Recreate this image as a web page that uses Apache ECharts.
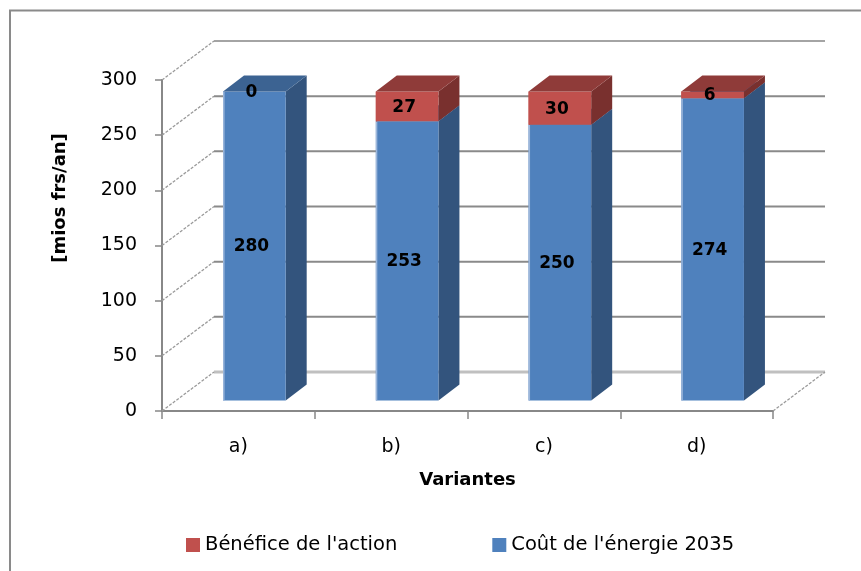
<!DOCTYPE html>
<html>
<head>
<meta charset="utf-8">
<script src="https://cdn.jsdelivr.net/npm/echarts@6/dist/echarts.min.js"></script>
<style>
html,body{margin:0;padding:0;background:#fff;}
#chart{width:861px;height:571px;}
</style>
</head>
<body>
<div id="chart"></div>
<script>
// ---- data ----
const categories = ['a)', 'b)', 'c)', 'd)'];
const coutEnergie = [280, 253, 250, 274];   // Coût de l'énergie 2035
const benefice = [0, 27, 30, 6];            // Bénéfice de l'action
const yTicks = [0, 50, 100, 150, 200, 250, 300];
const seriesNames = ["Bénéfice de l'action", "Coût de l'énergie 2035"];

// ---- style constants (pixels) ----
const WALL_DX = 52, WALL_DY = -39;     // depth of the 3D box
const BAR_FX = 16, BAR_FY = -10.5;     // bar front face offset
const BAR_SX = 21, BAR_SY = -16;       // bar depth
const BAR_W = 0.41;                    // fraction of band
const FONT = 'DejaVu Sans';

const chart = echarts.init(document.getElementById('chart'));

function stackData(vals, bases) {
  return vals.map((v, i) => [i, bases[i], bases[i] + v, v]);
}

function barRenderer(colors) {
  return function (params, api) {
    const cat = api.value(0), base = api.value(1), top = api.value(2), v = api.value(3);
    const bandW = api.size([1, 0])[0];
    const w = bandW * BAR_W;
    const pB = api.coord([cat, base]);
    const pT = api.coord([cat, top]);
    const xl = pB[0] + BAR_FX - w / 2, xr = xl + w;
    const yb = pB[1] + BAR_FY, yt = pT[1] + BAR_FY;
    const children = [];
    if (yb - yt > 0.01) {
      children.push({ type: 'polygon', shape: { points: [[xr, yb], [xr, yt], [xr + BAR_SX, yt + BAR_SY], [xr + BAR_SX, yb + BAR_SY]] },
        style: { fill: colors.side } });
      children.push({ type: 'rect', shape: { x: xl, y: yt, width: w, height: yb - yt }, style: { fill: colors.front } });
      children.push({ type: 'line', shape: { x1: xl + 0.75, y1: yt, x2: xl + 0.75, y2: yb }, style: { stroke: colors.edge, lineWidth: 1.5 } });
      children.push({ type: 'polygon', shape: { points: [[xl, yt], [xr, yt], [xr + BAR_SX, yt + BAR_SY], [xl + BAR_SX, yt + BAR_SY]] },
        style: { fill: colors.top } });
    }
    children.push({ type: 'text', x: xl + w / 2 - 3, y: (yt + yb) / 2 + 1,
      style: { text: String(v), fill: '#000', font: 'bold 17px "' + FONT + '"', align: 'center', verticalAlign: 'middle' } });
    return { type: 'group', children: children };
  };
}

const zeros = categories.map(() => 0);

const option = {
  animation: false,
  textStyle: { fontFamily: FONT },
  grid: { left: 162, right: 88, top: 80, bottom: 160, containLabel: false },
  legend: {
    data: seriesNames,
    left: 181, top: 530,
    itemWidth: 14, itemHeight: 14, itemGap: 95,
    icon: 'rect',
    textStyle: { fontFamily: FONT, fontSize: 19.5, color: '#000' }
  },
  graphic: [
    { type: 'polyline', shape: { points: [[10, 571], [10, 10.5], [861, 10.5]] }, style: { stroke: '#8a8a8a', lineWidth: 2, fill: null } },
    { type: 'text', x: 60.5, y: 198, rotation: Math.PI / 2,
      style: { text: '[mios frs/an]', font: 'bold 18px "' + FONT + '"', fill: '#000', align: 'center', verticalAlign: 'middle' } }
  ],
  xAxis: {
    type: 'category', data: categories,
    axisLine: { lineStyle: { color: '#888', width: 2 } },
    axisTick: { show: true, length: 8, alignWithLabel: false, lineStyle: { color: '#888', width: 1.5 } },
    axisLabel: { margin: 27, fontSize: 19, color: '#000', fontFamily: FONT },
    name: 'Variantes', nameLocation: 'middle', nameGap: 60,
    nameTextStyle: { fontWeight: 'bold', fontSize: 18, color: '#000', fontFamily: FONT },
    splitLine: { show: false }
  },
  yAxis: {
    type: 'value', min: 0, max: 300, interval: 50,
    axisLine: { show: true, lineStyle: { color: '#888', width: 2 } },
    axisTick: { show: true, length: 7, lineStyle: { color: '#888', width: 1.5 } },
    axisLabel: { margin: 25, fontSize: 19, color: '#000', fontFamily: FONT },
    splitLine: { show: false }
  },
  series: [
    {
      name: 'walls', type: 'custom', silent: true, clip: false, z: 1,
      data: yTicks.map(v => [0, v]),
      encode: { x: 0, y: 1 },
      renderItem: function (params, api) {
        const cs = params.coordSys;
        const v = api.value(1);
        const y = api.coord([0, v])[1];
        const x0 = cs.x, x1 = cs.x + cs.width;
        const children = [];
        const back = v === 0 ? '#c0c0c0' : (v === 300 ? '#a4a4a4' : '#8a8a8a');
        children.push({ type: 'line', shape: { x1: x0 + WALL_DX, y1: y + WALL_DY, x2: x1 + WALL_DX, y2: y + WALL_DY },
          style: { stroke: back, lineWidth: v === 0 ? 3 : 2 } });
        children.push({ type: 'line', shape: { x1: x0, y1: y, x2: x0 + WALL_DX, y2: y + WALL_DY },
          style: { stroke: '#9a9a9a', lineWidth: 1.3, lineDash: [3, 1.5] } });
        if (v === 0) {
          children.push({ type: 'line', shape: { x1: x1, y1: y, x2: x1 + WALL_DX, y2: y + WALL_DY },
            style: { stroke: '#9a9a9a', lineWidth: 1.3, lineDash: [3, 1.5] } });
        }
        return { type: 'group', children: children };
      }
    },
    {
      name: seriesNames[1], type: 'custom', clip: false, z: 2,
      itemStyle: { color: '#4F81BD' },
      data: stackData(coutEnergie, zeros),
      encode: { x: 0, y: [1, 2] },
      renderItem: barRenderer({ front: '#4F81BD', side: '#33547D', top: '#3C6392', edge: '#9db7db' })
    },
    {
      name: seriesNames[0], type: 'custom', clip: false, z: 3,
      itemStyle: { color: '#C0504D' },
      data: stackData(benefice, coutEnergie),
      encode: { x: 0, y: [1, 2] },
      renderItem: barRenderer({ front: '#C0504D', side: '#79302E', top: '#8F3B39', edge: '#C0504D' })
    }
  ]
};
chart.setOption(option);
</script>
</body>
</html>
